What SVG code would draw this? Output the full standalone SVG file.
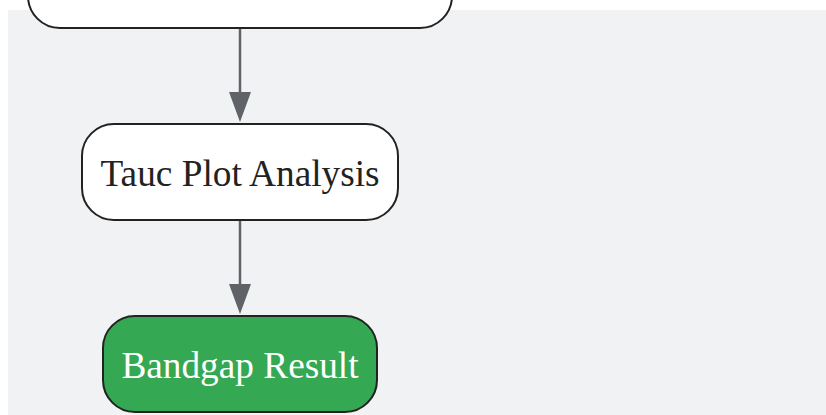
<svg xmlns="http://www.w3.org/2000/svg" width="826" height="415" viewBox="0 0 826 415">
<defs>
<style>
.node{stroke:#222;stroke-width:2}
.lbl{font-family:"Liberation Serif","Times New Roman",serif;font-size:37.3px;text-anchor:middle}
.edge{stroke:#5f6368;stroke-width:2.5;fill:none}
</style>
</defs>
<rect x="0" y="0" width="826" height="415" fill="#ffffff"/>
<rect x="8" y="10" width="818" height="405" fill="#f1f2f4"/>
<g id="n-top">
<rect class="node" x="28" y="-68" width="424" height="96" rx="32" fill="#ffffff"/>
</g>
<g id="n-tauc">
<rect class="node" x="82" y="124" width="316" height="96" rx="32" fill="#ffffff"/>
<text class="lbl" x="240" y="186" fill="#222">Tauc Plot Analysis</text>
</g>
<g id="n-result">
<rect class="node" x="103" y="316" width="274" height="96" rx="32" fill="#34a853"/>
<text class="lbl" x="240" y="378" fill="#ffffff">Bandgap Result</text>
</g>
<g id="edges">
<path d="M240,29 L240,92" class="edge"/>
<path d="M229,92 L251,92 L240,122 Z" fill="#5f6368"/>
<path d="M240,221 L240,284" class="edge"/>
<path d="M229,284 L251,284 L240,314 Z" fill="#5f6368"/>
</g>
</svg>
